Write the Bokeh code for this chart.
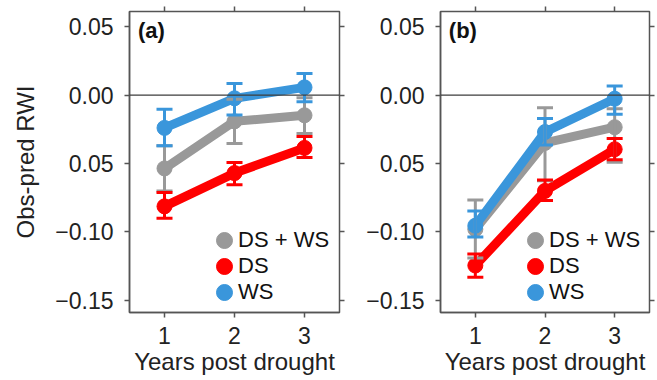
from bokeh.plotting import figure
from bokeh.models import (ColumnDataSource, Whisker, TeeHead, Span, Legend, LegendItem,
                          LinearAxis, FixedTicker, Label, Range1d)
from bokeh.layouts import row
from bokeh.embed import file_html
from bokeh.resources import INLINE

years = [1, 2, 3]
x_ticks = [1, 2, 3]
y_ticks = [0.05, 0.0, -0.05, -0.10, -0.15]
y_tick_labels = ["0.05", "0.00", "0.05", "\u22120.10", "\u22120.15"]

series_names = ["DS + WS", "DS", "WS"]
series_colors = ["#999999", "#ff0000", "#3a96db"]

# Panel (a)
a_dsws = [-0.0536, -0.0192, -0.0148]
a_dsws_lo = [-0.070, -0.0354, -0.028]
a_dsws_hi = [-0.037, -0.003, -0.002]
a_ds = [-0.0813, -0.057, -0.0386]
a_ds_lo = [-0.090, -0.0655, -0.0456]
a_ds_hi = [-0.0711, -0.0493, -0.0303]
a_ws = [-0.024, -0.0024, 0.0056]
a_ws_lo = [-0.037, -0.0146, -0.0049]
a_ws_hi = [-0.0104, 0.0085, 0.0158]

# Panel (b)
b_dsws = [-0.098, -0.035, -0.0235]
b_dsws_lo = [-0.119, -0.0626, -0.049]
b_dsws_hi = [-0.0767, -0.0092, -0.010]
b_ds = [-0.1245, -0.070, -0.0396]
b_ds_lo = [-0.133, -0.077, -0.0473]
b_ds_hi = [-0.116, -0.062, -0.0318]
b_ws = [-0.0954, -0.027, -0.0027]
b_ws_lo = [-0.1036, -0.0364, -0.014]
b_ws_hi = [-0.0847, -0.0172, 0.0066]

FONT = "Liberation Sans"
AX = "#555555"
NAN = float("nan")


def make_panel(tag, data, min_left, fwidth, ylabel, show_ylabel, min_right):
    p = figure(frame_width=fwidth, frame_height=301, output_backend="svg",
               toolbar_location=None, x_range=Range1d(0.5, 3.5),
               y_range=Range1d(-0.1588, 0.061),
               min_border_left=min_left, min_border_right=min_right,
               min_border_top=11, min_border_bottom=0)
    p.grid.visible = False
    p.outline_line_color = AX
    p.outline_line_width = 1.5
    p.background_fill_color = "white"
    p.border_fill_color = "white"

    for ax in (p.xaxis[0], p.yaxis[0]):
        ax.axis_line_color = AX
        ax.axis_line_width = 1.5
        ax.major_tick_line_color = AX
        ax.major_tick_line_width = 1.5
        ax.major_tick_out = 5
        ax.major_tick_in = 0
        ax.minor_tick_line_color = None
        ax.major_label_text_font = FONT
        ax.major_label_text_font_size = "23px"
        ax.major_label_text_color = "#222222"
        ax.axis_label_text_font = FONT
        ax.axis_label_text_font_size = "24px"
        ax.axis_label_text_font_style = "normal"
        ax.axis_label_text_color = "#222222"
    p.xaxis[0].ticker = FixedTicker(ticks=x_ticks)
    p.xaxis[0].major_label_standoff = 9
    p.xaxis[0].axis_label = "Years post drought"
    p.xaxis[0].axis_label_standoff = 1
    p.yaxis[0].ticker = FixedTicker(ticks=y_ticks)
    p.yaxis[0].major_label_overrides = {t: l for t, l in zip(y_ticks, y_tick_labels)}
    p.yaxis[0].major_label_standoff = 11
    if show_ylabel:
        p.yaxis[0].axis_label = ylabel
        p.yaxis[0].axis_label_standoff = 13

    # top / right tick-only axes
    top = LinearAxis(ticker=FixedTicker(ticks=x_ticks))
    right = LinearAxis(ticker=FixedTicker(ticks=y_ticks))
    for ax in (top, right):
        ax.axis_line_color = AX
        ax.major_tick_line_color = AX
        ax.major_tick_line_width = 1.5
        ax.major_tick_out = 5
        ax.major_tick_in = 0
        ax.minor_tick_line_color = None
        ax.major_label_text_font_size = "1px"
        ax.major_label_text_color = None
        ax.major_label_standoff = 0
    p.add_layout(top, "above")
    p.add_layout(right, "right")

    p.add_layout(Span(location=0, dimension="width", line_color="#3c3c3c", line_width=1.3))

    items = []
    for name, color, (vals, lo, hi) in zip(series_names, series_colors, data):
        src = ColumnDataSource(dict(x=years, y=vals, lo=lo, hi=hi))
        p.line("x", "y", source=src, line_color=color, line_width=9, line_join="round")
        w = Whisker(base="x", lower="lo", upper="hi", source=src, dimension="height",
                    line_color=color, line_width=3, level="glyph",
                    upper_head=TeeHead(size=16, line_color=color, line_width=3),
                    lower_head=TeeHead(size=16, line_color=color, line_width=3))
        p.add_layout(w)
        p.scatter("x", "y", source=src, size=15, fill_color=color, line_color=color)
        key = p.ellipse(x=[NAN], y=[NAN], width=16, height=16, width_units="screen",
                        height_units="screen", fill_color=color, line_color=color)
        items.append(LegendItem(label=name, renderers=[key]))

    leg = Legend(items=items, location=(85, 7), orientation="vertical",
                 glyph_width=20, glyph_height=20, label_height=23, label_standoff=4,
                 spacing=0, padding=0, margin=0,
                 label_text_font=FONT, label_text_font_size="22px",
                 label_text_color="#111111",
                 background_fill_alpha=0, border_line_color=None)
    p.add_layout(leg)

    p.add_layout(Label(x=0.62, y=0.0565, text=tag, text_font=FONT, text_font_size="22px",
                       text_font_style="bold", text_baseline="top", text_color="#111111"))
    return p


pa = make_panel("(a)", [(a_dsws, a_dsws_lo, a_dsws_hi), (a_ds, a_ds_lo, a_ds_hi),
                        (a_ws, a_ws_lo, a_ws_hi)], 129, 210, "Obs-pred RWI", True, 10)
pb = make_panel("(b)", [(b_dsws, b_dsws_lo, b_dsws_hi), (b_ds, b_ds_lo, b_ds_hi),
                        (b_ws, b_ws_lo, b_ws_hi)], 91, 209, "", False, 7)

layout = row(pa, pb)
open("out.html", "w").write(file_html(layout, INLINE))
